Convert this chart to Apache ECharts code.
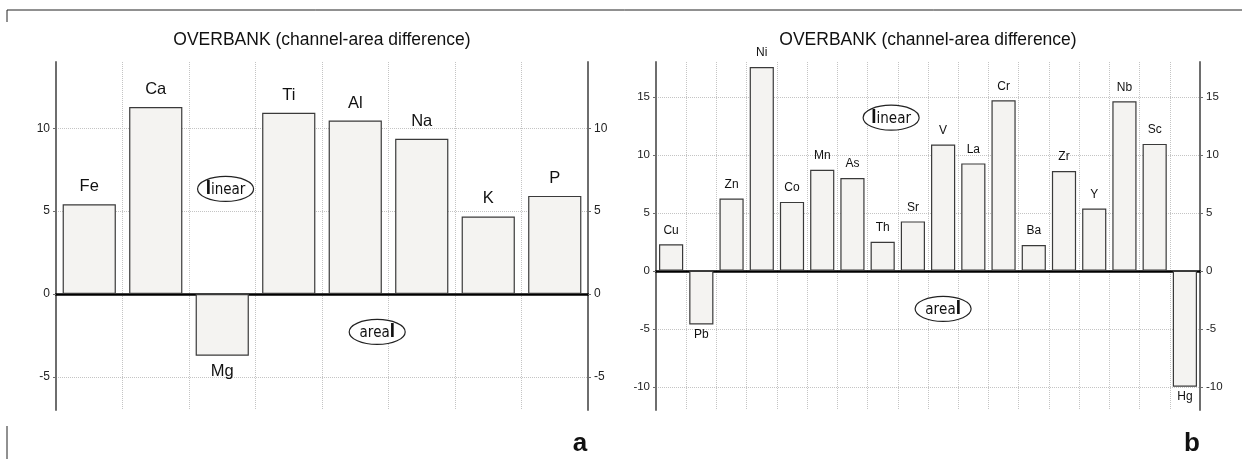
<!DOCTYPE html>
<html><head><meta charset="utf-8">
<script src="https://cdn.jsdelivr.net/npm/echarts@6/dist/echarts.min.js"></script>
<style>html,body{margin:0;padding:0;background:#fff}#c{width:1242px;height:459px}</style>
</head><body><div id="c"></div>
<script>
// ---- data ----
const catsA = ['Fe','Ca','Mg','Ti','Al','Na','K','P'];
const valsA = [5.42, 11.28, -3.73, 10.93, 10.47, 9.37, 4.68, 5.92];
const ticksA = [-5, 0, 5, 10];
const rangeA = [-7, 14];
const catsB = ['Cu','Pb','Zn','Ni','Co','Mn','As','Th','Sr','V','La','Cr','Ba','Zr','Y','Nb','Sc','Hg'];
const valsB = [2.29, -4.63, 6.23, 17.57, 5.94, 8.71, 8.0, 2.51, 4.26, 10.89, 9.26, 14.7, 2.23, 8.6, 5.37, 14.62, 10.94, -10.0];
const ticksB = [-10, -5, 0, 5, 10, 15];
const rangeB = [-12, 18];
const titleText = 'OVERBANK (channel-area difference)';
const panelLetters = ['a', 'b'];
const notesA = [{text: 'linear', cat: 2.55, value: 6.34}, {text: 'areal', cat: 4.83, value: -2.29}];
const notesB = [{text: 'linear', cat: 7.78, value: 13.2}, {text: 'areal', cat: 9.5, value: -3.28}];

// ---- layout ----
const grids = [
  {left: 56, top: 62, width: 532, height: 348},
  {left: 656, top: 62, width: 544, height: 348}
];
const FONT = "'Liberation Sans', Arial, sans-serif";
const NARROW = "'DejaVu Sans Condensed', 'Liberation Sans Narrow', sans-serif";

function yAxes(gi, range, ticks, fs) {
  const base = (pos, split) => ({
    type: 'value', gridIndex: gi, position: pos, min: range[0], max: range[1],
    axisLine: {show: true, onZero: false, lineStyle: {color: '#6e6e6e', width: 2}},
    axisTick: {show: true, length: 3, inside: false, customValues: ticks, lineStyle: {color: '#6e6e6e', width: 1}},
    axisLabel: {show: true, customValues: ticks, fontSize: fs, color: '#222', fontFamily: FONT, margin: 6},
    splitLine: {show: split, lineStyle: {color: '#c4c4c4', type: [1, 1], width: 1}}
  });
  return [base('left', true), base('right', false)];
}
function xAxis(gi, cats) {
  return {
    type: 'category', gridIndex: gi, data: cats, boundaryGap: true,
    axisLine: {show: true, onZero: true, lineStyle: {color: '#000', width: 2.5}},
    axisTick: {show: false}, axisLabel: {show: false, interval: 0},
    splitLine: {show: true, interval: 0, lineStyle: {color: '#c4c4c4', type: [1, 1], width: 1}}
  };
}
function barData(vals, dTop, dBot) {
  return vals.map(v => ({value: v, label: {position: v < 0 ? 'bottom' : 'top', distance: v < 0 ? dBot : dTop}}));
}
function barSeries(xi, yi, vals, fs, dTop, dBot) {
  return {
    type: 'bar', xAxisIndex: xi, yAxisIndex: yi, data: barData(vals, dTop, dBot),
    barCategoryGap: '20%', animation: false,
    itemStyle: {color: '#f4f3f1', borderColor: '#3a3a3a', borderWidth: 1.2},
    label: {show: true, formatter: '{b}', fontSize: fs, color: '#111', fontFamily: FONT}
  };
}

const chart = echarts.init(document.getElementById('c'), null, {renderer: 'canvas'});
chart.setOption({
  animation: false,
  backgroundColor: '#fff',
  grid: grids.map(g => Object.assign({containLabel: false}, g)),
  xAxis: [xAxis(0, catsA), xAxis(1, catsB)],
  yAxis: [].concat(yAxes(0, rangeA, ticksA, 12), yAxes(1, rangeB, ticksB, 11.5)),
  series: [barSeries(0, 0, valsA, 16.5, 9, 7), barSeries(1, 2, valsB, 12, 8, 4)]
});

// ---- annotations ----
const gfx = [];
gfx.push({type: 'polyline', shape: {points: [[7, 22], [7, 10], [1242, 10]]}, style: {stroke: '#222', lineWidth: 1, fill: null}});
gfx.push({type: 'line', shape: {x1: 7, y1: 426, x2: 7, y2: 459}, style: {stroke: '#222', lineWidth: 1}});
grids.forEach((g, i) => {
  gfx.push({type: 'text', x: g.left + g.width / 2, y: 40,
    style: {text: titleText, fontSize: 17.5, fontFamily: FONT, fill: '#111', align: 'center', verticalAlign: 'middle'}});
  gfx.push({type: 'text', x: g.left + g.width - 8, y: 444,
    style: {text: panelLetters[i], fontSize: 26, fontWeight: 'bold', fontFamily: FONT, fill: '#111', align: 'center', verticalAlign: 'middle'}});
});
function richWord(w) {
  // the letter "l" is drawn heavier in the reference labels
  return w.split('').map(ch => ch === 'l' ? '{b|l}' : '{n|' + ch + '}').join('');
}
function addNotes(notes, gi, yAxisIndex, n) {
  const g = grids[gi];
  notes.forEach(nt => {
    const cx = g.left + nt.cat * g.width / n;
    const cy = chart.convertToPixel({yAxisIndex: yAxisIndex}, nt.value);
    gfx.push({type: 'ellipse', shape: {cx: cx, cy: cy, rx: 28, ry: 12.5}, z: 10,
      style: {fill: '#fff', stroke: '#222', lineWidth: 1.2}});
    gfx.push({type: 'text', x: cx, y: cy + 1, z: 11,
      style: {
        text: richWord(nt.text),
        align: 'center', verticalAlign: 'middle',
        rich: {
          b: {fontSize: 17, fontWeight: 'bold', fontFamily: NARROW, fill: '#111'},
          n: {fontSize: 15, fontFamily: NARROW, fill: '#111'}
        }
      }});
  });
}
addNotes(notesA, 0, 0, catsA.length);
addNotes(notesB, 1, 2, catsB.length);
chart.setOption({graphic: gfx});
</script>
</body></html>
